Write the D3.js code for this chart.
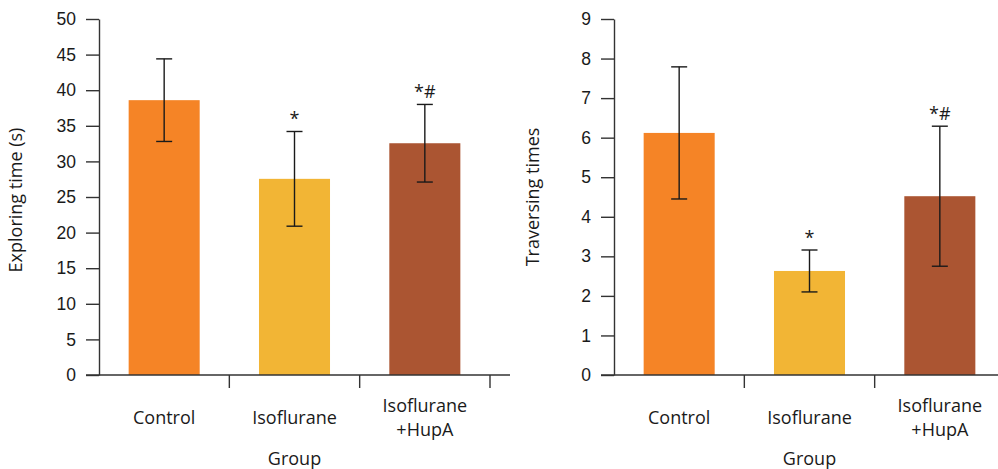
<html>
<head>
  <script src="https://d3js.org/d3.v7.min.js"></script>
  <style>
    body{ margin:0; background:#fff; }
    svg{ display:block; font-family:"Open Sans", sans-serif; }
  </style>
</head>
<body>
  <script type="text/javascript">

    // data
    var groups = ["Control", "Isoflurane", "Isoflurane+HupA"];
    var groupLines = [["Control"], ["Isoflurane"], ["Isoflurane", "+HupA"]];
    var colors = ["#F58426", "#F2B535", "#AB5532"];
    var marks = ["", "*", "*#"];

    var exploreMean = [38.6, 27.55, 32.55];
    var exploreSD = [5.8, 6.65, 5.45];
    var exploreTicks = [0, 5, 10, 15, 20, 25, 30, 35, 40, 45, 50];

    var traverseMean = [6.12, 2.63, 4.52];
    var traverseSD = [1.67, 0.53, 1.77];
    var traverseTicks = [0, 1, 2, 3, 4, 5, 6, 7, 8, 9];

    var svg = d3.select("body").append("svg")
      .attr("width", 998)
      .attr("height", 469)

    var drawPanel = function(opt){
      var top = 19, bottom = 375;
      var g = svg.append("g")

      var x = d3.scaleBand()
        .domain(groups)
        .range([opt.x0, opt.x1])
        .padding(0)
      var y = d3.scaleLinear()
        .domain([0, opt.max])
        .range([bottom, top])

      var barW = x.bandwidth() * 0.545

      // bars
      g.selectAll("rect.bar")
        .data(groups)
        .enter()
        .append("rect")
        .attr("class", "bar")
        .attr("x", function(d){ return x(d) + (x.bandwidth() - barW) / 2 })
        .attr("y", function(d, i){ return y(opt.mean[i]) })
        .attr("width", barW)
        .attr("height", function(d, i){ return bottom - y(opt.mean[i]) })
        .attr("fill", function(d, i){ return colors[i] })

      // error bars
      var err = g.selectAll("g.err")
        .data(groups)
        .enter()
        .append("g")
        .attr("class", "err")
        .attr("stroke", "#1a1a1a")
        .attr("stroke-width", 1.4)
      var cx = function(d){ return x(d) + x.bandwidth() / 2 }
      err.append("line")
        .attr("x1", cx).attr("x2", cx)
        .attr("y1", function(d, i){ return y(opt.mean[i] + opt.sd[i]) })
        .attr("y2", function(d, i){ return y(opt.mean[i] - opt.sd[i]) })
      err.append("line")
        .attr("x1", function(d){ return cx(d) - 8 }).attr("x2", function(d){ return cx(d) + 8 })
        .attr("y1", function(d, i){ return y(opt.mean[i] + opt.sd[i]) })
        .attr("y2", function(d, i){ return y(opt.mean[i] + opt.sd[i]) })
      err.append("line")
        .attr("x1", function(d){ return cx(d) - 8 }).attr("x2", function(d){ return cx(d) + 8 })
        .attr("y1", function(d, i){ return y(opt.mean[i] - opt.sd[i]) })
        .attr("y2", function(d, i){ return y(opt.mean[i] - opt.sd[i]) })

      // significance marks
      g.selectAll("text.mark")
        .data(groups)
        .enter()
        .append("text")
        .attr("class", "mark")
        .attr("x", cx)
        .attr("y", function(d, i){ return y(opt.mean[i] + opt.sd[i]) - 6 })
        .attr("text-anchor", "middle")
        .attr("font-size", 18)
        .attr("fill", "#1a1a1a")
        .text(function(d, i){ return marks[i] })

      // y axis
      var yAxis = d3.axisLeft(y)
        .tickValues(opt.ticks)
        .tickSize(13)
        .tickSizeOuter(0)
        .tickPadding(10)
      var ya = g.append("g")
        .attr("transform", "translate(" + opt.x0 + ",0)")
        .call(yAxis)
      ya.selectAll("path, line").attr("stroke", "#333").attr("stroke-width", 1.4)
      ya.selectAll("text").attr("font-size", 17.5).attr("fill", "#1a1a1a")

      // x axis
      g.append("line")
        .attr("x1", opt.x0 - 13).attr("x2", opt.x1 + 20)
        .attr("y1", bottom).attr("y2", bottom)
        .attr("stroke", "#333").attr("stroke-width", 1.4)
      g.selectAll("line.xtick")
        .data(groups)
        .enter()
        .append("line")
        .attr("class", "xtick")
        .attr("x1", function(d){ return x(d) + x.bandwidth() })
        .attr("x2", function(d){ return x(d) + x.bandwidth() })
        .attr("y1", bottom).attr("y2", bottom + 13)
        .attr("stroke", "#333").attr("stroke-width", 1.4)

      var labels = g.selectAll("text.xlab")
        .data(groups)
        .enter()
        .append("text")
        .attr("class", "xlab")
        .attr("text-anchor", "middle")
        .attr("font-size", 18)
        .attr("fill", "#1a1a1a")
        .attr("transform", function(d){ return "translate(" + cx(d) + ",0)" })
      labels.selectAll("tspan")
        .data(function(d, i){
          var lines = groupLines[i]
          return lines.map(function(t, k){ return {t: t, n: lines.length, k: k} })
        })
        .enter()
        .append("tspan")
        .attr("x", 0)
        .attr("y", function(d){ return d.n == 1 ? 424 : 412 + d.k * 24 })
        .text(function(d){ return d.t })

      g.append("text")
        .attr("x", (opt.x0 + opt.x1) / 2)
        .attr("y", 465)
        .attr("text-anchor", "middle")
        .attr("font-size", 18)
        .attr("fill", "#1a1a1a")
        .text("Group")

      g.append("text")
        .attr("transform", "translate(" + opt.labelX + "," + opt.labelY + ") rotate(-90)")
        .attr("text-anchor", "middle")
        .attr("font-size", 18)
        .attr("fill", "#1a1a1a")
        .text(opt.label)
    }

    drawPanel({x0: 99, x1: 490, max: 50, ticks: exploreTicks, mean: exploreMean, sd: exploreSD,
               label: "Exploring time (s)", labelX: 22, labelY: 200})
    drawPanel({x0: 614, x1: 1005, max: 9, ticks: traverseTicks, mean: traverseMean, sd: traverseSD,
               label: "Traversing times", labelX: 539, labelY: 197})

  </script>
</body>
</html>
